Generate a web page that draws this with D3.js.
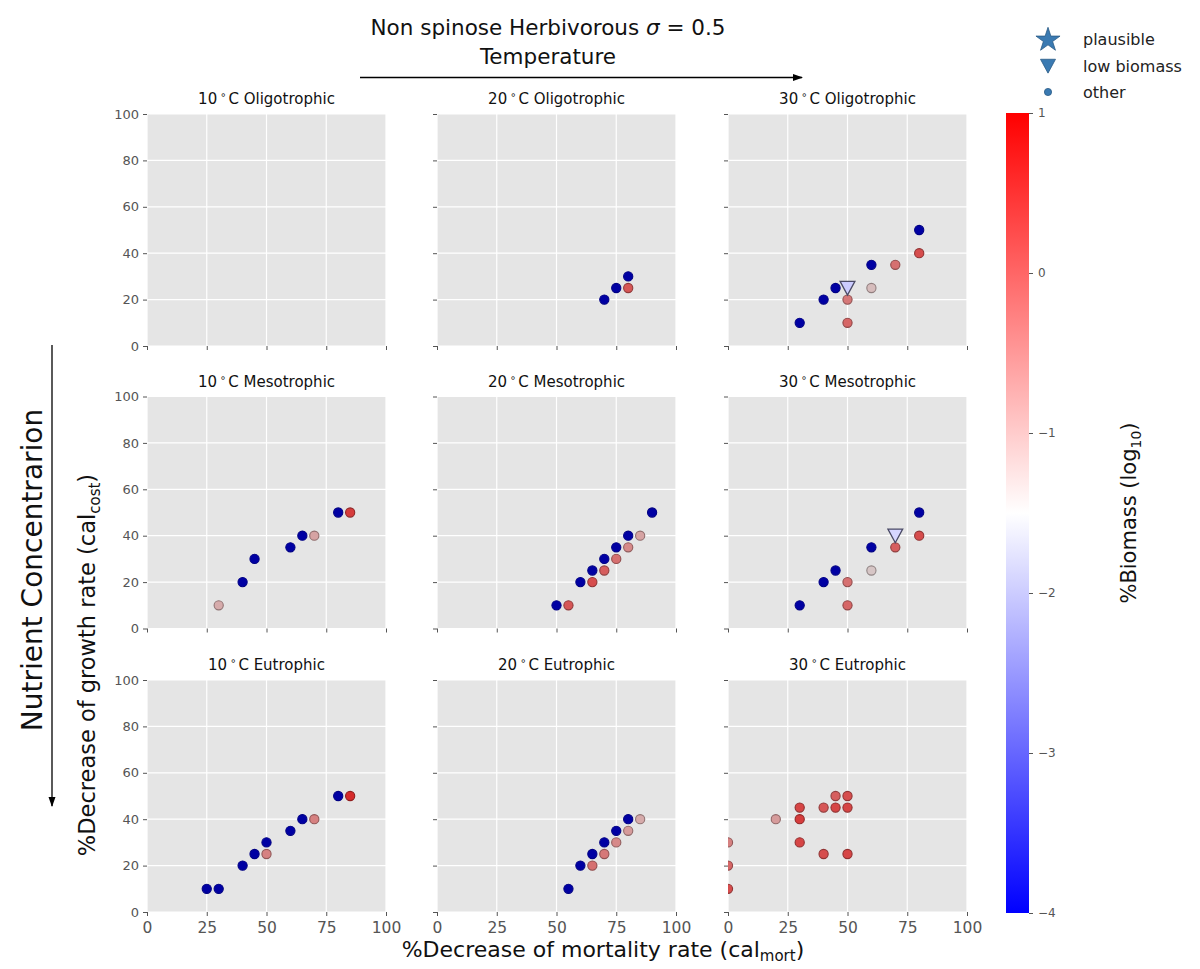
<!DOCTYPE html>
<html>
<head>
<meta charset="utf-8">
<script src="https://cdn.jsdelivr.net/npm/d3@7"></script>
<style>
  body { margin: 0; background: #fff; }
  text { font-family: "DejaVu Sans", sans-serif; }
</style>
</head>
<body>
<svg id="chart" width="1200" height="969"></svg>
<script>
// Grid of scenarios: temperature across, nutrient level down
const temperatures = ["10", "20", "30"];
const trophicLevels = ["Oligotrophic", "Mesotrophic", "Eutrophic"];
const xTicks = [0, 25, 50, 75, 100];
const yTicks = [0, 20, 40, 60, 80, 100];
const colorbarTicks = [1, 0, -1, -2, -3, -4];
const legendLabels = ["plausible", "low biomass", "other"];

// Each run: [cal_mort %, cal_cost %, log10 %biomass]  (blue runs are below the colour range)
const oligo10 = [];
const oligo20 = [[70, 20, -4.5], [75, 25, -4.5], [80, 30, -4.5], [80, 25, 0.0]];
const oligo30 = [[30, 10, -4.5], [40, 20, -4.5], [45, 25, -4.5], [60, 35, -4.5], [80, 50, -4.5],
                 [50, 20, -0.4], [50, 10, -0.2], [60, 25, -1.2], [70, 35, -0.3], [80, 40, 0.1]];
const meso10 = [[40, 20, -4.5], [45, 30, -4.5], [60, 35, -4.5], [65, 40, -4.5], [80, 50, -4.5],
                [30, 10, -1.0], [70, 40, -0.9], [85, 50, 0.3]];
const meso20 = [[50, 10, -4.5], [60, 20, -4.5], [65, 25, -4.5], [70, 30, -4.5], [75, 35, -4.5], [80, 40, -4.5], [90, 50, -4.5],
                [55, 10, 0.0], [65, 20, 0.1], [70, 25, -0.1], [75, 30, -0.3], [80, 35, -0.6], [85, 40, -0.9]];
const meso30 = [[30, 10, -4.5], [40, 20, -4.5], [45, 25, -4.5], [60, 35, -4.5], [80, 50, -4.5],
                [50, 10, -0.2], [50, 20, -0.3], [60, 25, -1.3], [70, 35, -0.1], [80, 40, 0.1]];
const eutro10 = [[25, 10, -4.5], [30, 10, -4.5], [40, 20, -4.5], [45, 25, -4.5], [50, 30, -4.5], [60, 35, -4.5], [65, 40, -4.5], [80, 50, -4.5],
                 [50, 25, -0.5], [70, 40, -0.5], [85, 50, 0.5]];
const eutro20 = [[55, 10, -4.5], [60, 20, -4.5], [65, 25, -4.5], [70, 30, -4.5], [75, 35, -4.5], [80, 40, -4.5],
                 [65, 20, -0.3], [70, 25, -0.4], [75, 30, -0.6], [80, 35, -0.8], [85, 40, -1.0]];
const eutro30 = [[0, 10, 0.1], [0, 20, -0.2], [0, 30, -0.5], [20, 40, -0.8], [30, 30, 0.2], [30, 40, 0.3], [30, 45, 0.2],
                 [40, 45, 0.0], [45, 45, 0.2], [45, 50, -0.1], [50, 50, 0.1], [50, 45, 0.2], [40, 25, 0.1], [50, 25, 0.2]];

// Runs flagged as low biomass (triangles)
const lowOligo30 = [[50, 25, -2.0]];
const lowMeso30 = [[70, 40, -1.9]];

const otherRuns = [[oligo10, oligo20, oligo30], [meso10, meso20, meso30], [eutro10, eutro20, eutro30]];
const lowRuns = [[[], [], lowOligo30], [[], [], lowMeso30], [[], [], []]];

const svg = d3.select("#chart");

// Layout
const colLeft = [147, 437, 728];
const rowTop = [114, 396.5, 680];
const pw = 239, ph = 232;

const x = d3.scaleLinear().domain([0, 100]).range([0, pw]);
const y = d3.scaleLinear().domain([0, 100]).range([ph, 0]);

// bwr colormap, log10 biomass from -4 to 1
const bwr = d3.scaleLinear().domain([-4, -1.5, 1]).range(["#0000ff", "#ffffff", "#ff0000"]).clamp(true);
const fillOf = v => d3.interpolateRgb(bwr(v), "#000000")(v < -1.5 ? 0.36 : 0.16);
const edgeOf = v => d3.color(fillOf(v)).darker(v < -1.5 ? 0.6 : 1.1).formatHex();

const defs = svg.append("defs");
defs.append("marker")
  .attr("id", "arrowhead").attr("viewBox", "0 0 10 10")
  .attr("refX", 9).attr("refY", 5)
  .attr("markerWidth", 10).attr("markerHeight", 10)
  .attr("markerUnits", "userSpaceOnUse")
  .attr("orient", "auto")
  .append("path").attr("d", "M0,1.5 L10,5 L0,8.5 Z").attr("fill", "#000");

const triDown = s => `M${-s},${-s * 0.9} L${s},${-s * 0.9} L0,${s * 0.95} Z`;

trophicLevels.forEach((trophic, r) => {
  temperatures.forEach((temp, c) => {
    const g = svg.append("g").attr("transform", `translate(${colLeft[c]},${rowTop[r]})`);
    const clipId = `clip-${r}-${c}`;
    defs.append("clipPath").attr("id", clipId)
      .append("rect").attr("width", pw).attr("height", ph);

    g.append("rect").attr("width", pw).attr("height", ph).attr("fill", "#e5e5e5");

    // grid
    g.append("g").selectAll("line").data(xTicks).join("line")
      .attr("x1", d => x(d)).attr("x2", d => x(d)).attr("y1", 0).attr("y2", ph)
      .attr("stroke", "#fff").attr("stroke-width", 1.2);
    g.append("g").selectAll("line").data(yTicks).join("line")
      .attr("y1", d => y(d)).attr("y2", d => y(d)).attr("x1", 0).attr("x2", pw)
      .attr("stroke", "#fff").attr("stroke-width", 1.2);

    // axes
    const ax = g.append("g").attr("transform", `translate(0,${ph})`)
      .call(d3.axisBottom(x).tickValues(xTicks).tickSize(4).tickPadding(6)
        .tickFormat(r === 2 ? d3.format("d") : () => ""));
    const ay = g.append("g")
      .call(d3.axisLeft(y).tickValues(yTicks).tickSize(4).tickPadding(4)
        .tickFormat(c === 0 ? d3.format("d") : () => ""));
    [ax, ay].forEach(a => {
      a.select(".domain").remove();
      a.selectAll(".tick line").attr("stroke", "#555");
      a.selectAll(".tick text").attr("fill", "#555").attr("font-family", "DejaVu Sans, sans-serif");
    });
    ax.selectAll(".tick text").attr("font-size", 15.5);
    ay.selectAll(".tick text").attr("font-size", 13);

    // title
    const t = g.append("text").attr("x", pw / 2).attr("y", -10)
      .attr("text-anchor", "middle").attr("font-size", 15).attr("fill", "#111");
    t.append("tspan").text(temp);
    t.append("tspan").attr("dx", 3).attr("dy", -6).attr("font-size", 10).text("∘");
    t.append("tspan").attr("dx", 2).attr("dy", 6).text("C " + trophic);

    const pts = g.append("g").attr("clip-path", `url(#${clipId})`);
    pts.selectAll("circle").data(otherRuns[r][c]).join("circle")
      .attr("cx", d => x(d[0])).attr("cy", d => y(d[1])).attr("r", 4.6)
      .attr("fill", d => fillOf(d[2]))
      .attr("stroke", d => edgeOf(d[2]))
      .attr("stroke-width", 1.1);
    pts.selectAll("path").data(lowRuns[r][c]).join("path")
      .attr("transform", d => `translate(${x(d[0])},${y(d[1])})`)
      .attr("d", triDown(7.4))
      .attr("fill", d => bwr(d[2]))
      .attr("stroke", "#4a4a66")
      .attr("stroke-width", 1.3);
  });
});

// Figure title and temperature arrow
const title = svg.append("text").attr("x", 548).attr("y", 35).attr("text-anchor", "middle")
  .attr("font-size", 21.5).attr("fill", "#111");
title.append("tspan").text("Non spinose Herbivorous ");
title.append("tspan").attr("font-style", "italic").text("σ");
title.append("tspan").text(" = 0.5");
svg.append("text").attr("x", 548).attr("y", 64).attr("text-anchor", "middle")
  .attr("font-size", 21.5).attr("fill", "#111").text("Temperature");
svg.append("line").attr("x1", 360).attr("x2", 802).attr("y1", 77.5).attr("y2", 77.5)
  .attr("stroke", "#000").attr("stroke-width", 1.3).attr("marker-end", "url(#arrowhead)");

// Nutrient arrow and label
svg.append("text").attr("transform", "translate(42,570) rotate(-90)").attr("text-anchor", "middle")
  .attr("font-size", 28).attr("fill", "#111").text("Nutrient Concentrarion");
svg.append("line").attr("x1", 52).attr("x2", 52).attr("y1", 345).attr("y2", 806)
  .attr("stroke", "#000").attr("stroke-width", 1.3).attr("marker-end", "url(#arrowhead)");

// Axis labels
const yl = svg.append("text").attr("transform", "translate(95,665) rotate(-90)").attr("text-anchor", "middle")
  .attr("font-size", 22.5).attr("fill", "#111");
yl.append("tspan").text("%Decrease of growth rate (cal");
yl.append("tspan").attr("dy", 5).attr("font-size", 15).text("cost");
yl.append("tspan").attr("dy", -5).text(")");

const xl = svg.append("text").attr("x", 603).attr("y", 957).attr("text-anchor", "middle")
  .attr("font-size", 22).attr("fill", "#111");
xl.append("tspan").text("%Decrease of mortality rate (cal");
xl.append("tspan").attr("dy", 4).attr("font-size", 15).text("mort");
xl.append("tspan").attr("dy", -4).text(")");

// Colorbar
const cbY = d3.scaleLinear().domain([-4, 1]).range([913, 113]);
const grad = defs.append("linearGradient").attr("id", "bwr")
  .attr("x1", 0).attr("x2", 0).attr("y1", 1).attr("y2", 0);
[-4, -3, -2, -1.5, -1, 0, 1].forEach(v => {
  grad.append("stop").attr("offset", (v + 4) / 5).attr("stop-color", bwr(v));
});
svg.append("rect").attr("x", 1006).attr("y", 113).attr("width", 23).attr("height", 800)
  .attr("fill", "url(#bwr)");
const cb = svg.append("g").attr("transform", "translate(1029,0)")
  .call(d3.axisRight(cbY).tickValues(colorbarTicks).tickSize(4).tickPadding(5)
    .tickFormat(d => d < 0 ? "−" + Math.abs(d) : String(d)));
cb.select(".domain").remove();
cb.selectAll(".tick line").attr("stroke", "#555");
cb.selectAll(".tick text").attr("fill", "#555").attr("font-size", 12);

const cl = svg.append("text").attr("transform", "translate(1136,513) rotate(-90)").attr("text-anchor", "middle")
  .attr("font-size", 21).attr("fill", "#111");
cl.append("tspan").text("%Biomass (log");
cl.append("tspan").attr("dy", 5).attr("font-size", 14).text("10");
cl.append("tspan").attr("dy", -5).text(")");

// Legend
const legendColor = "#3a7ab2";
const lg = svg.append("g");
lg.append("path").attr("transform", "translate(1048,40)")
  .attr("d", d3.symbol(d3.symbolStar, 180)())
  .attr("fill", legendColor).attr("stroke", "#2a5a85").attr("stroke-width", 0.8);
lg.append("path").attr("transform", "translate(1048,66)")
  .attr("d", triDown(7.5))
  .attr("fill", legendColor).attr("stroke", "#2a5a85").attr("stroke-width", 0.8);
lg.append("circle").attr("cx", 1048).attr("cy", 92).attr("r", 3.6)
  .attr("fill", legendColor).attr("stroke", "#2a5a85").attr("stroke-width", 0.8);
lg.selectAll("text").data(legendLabels).join("text")
  .attr("x", 1083).attr("y", (d, i) => 45 + i * 26.5)
  .attr("font-size", 16).attr("fill", "#222").text(d => d);
</script>
</body>
</html>
